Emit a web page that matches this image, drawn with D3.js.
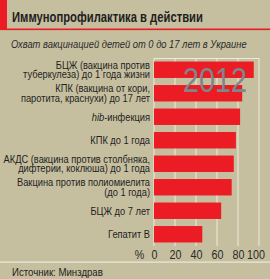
<!DOCTYPE html>
<html>
<head>
<meta charset="utf-8">
<script src="https://cdn.jsdelivr.net/npm/d3@7"></script>
<style>
  body { margin: 0; background: #c6bf9f; }
  svg { display: block; }
  text { font-family: "Liberation Sans", Arial, sans-serif; }
</style>
</head>
<body>
<svg id="chart" width="270" height="279"></svg>
<script>
// Data
const categories = [
    "БЦЖ (вакцина против\nтуберкулеза) до 1 года жизни",
    "КПК (вакцина от кори,\nпаротита, краснухи) до 17 лет",
    "hib-инфекция",
    "КПК до 1 года",
    "АКДС (вакцина против столбняка,\nдифтерии, коклюша) до 1 года",
    "Вакцина против полиомиелита\n(до 1 года)",
    "БЦЖ до 7 лет",
    "Гепатит В"
];
const values = [95, 84, 82, 78, 76, 74, 64, 46];
const tickValues = [0, 20, 40, 60, 80, 100];
const title = "Иммунопрофилактика в действии";
const subtitle = "Охват вакцинацией детей от 0 до 17 лет в Украине";
const yearLabel = "2012";
const source = "Источник: Минздрав";

const svg = d3.select("#chart");
const bg = "#c6bf9f";
const red = "#ec1c24";
const grid = "#eeeadb";
const ink = "#1e1e1e";

// The original uses a condensed face; squeeze a regular one horizontally
function condensed(parent, px, py, sx, anchor) {
    return parent.append("g")
        .attr("transform", `translate(${px},${py}) scale(${sx},1)`)
        .append("text")
        .attr("text-anchor", anchor || "start");
}

// fit a text to a width measured on the reference
function fit(textSel, width) {
    const w = textSel.node().getComputedTextLength();
    const parent = d3.select(textSel.node().parentNode);
    parent.attr("transform", parent.attr("transform").replace(/scale\([^)]*\)/, `scale(${width / w},1)`));
    return width / w;
}

svg.append("rect").attr("width", 270).attr("height", 279).attr("fill", bg);

// Title block
svg.append("rect").attr("x", 0).attr("y", 0).attr("width", 7).attr("height", 30).attr("fill", red);
svg.append("rect").attr("x", 0).attr("y", 28.5).attr("width", 270).attr("height", 1.6).attr("fill", red);

const titleText = condensed(svg, 12, 22, 1, "start")
    .style("font-size", "14px").style("font-weight", "bold").attr("fill", ink)
    .text(title);
fit(titleText, 191);
const subText = condensed(svg, 11, 47.5, 1, "start")
    .style("font-size", "11.5px").style("font-style", "italic").attr("fill", "#2a2a2a")
    .text(subtitle);
fit(subText, 236);

// Scales
const x = d3.scaleLinear().domain([0, 100]).range([154, 259]);
const y = d3.scaleBand().domain(categories).range([58, 246]).paddingInner(0.3).paddingOuter(0.15);

// Grid
const g = svg.append("g");
g.selectAll(".grid")
    .data(tickValues)
    .enter()
    .append("line")
    .attr("x1", d => x(d)).attr("x2", d => x(d))
    .attr("y1", 58).attr("y2", 246)
    .attr("stroke", grid).attr("stroke-width", 1);
g.append("line")
    .attr("x1", x(0)).attr("x2", x(100))
    .attr("y1", 58.5).attr("y2", 58.5)
    .attr("stroke", grid).attr("stroke-width", 1);

// Bars
g.selectAll(".bar")
    .data(values)
    .enter()
    .append("rect")
    .attr("class", "bar")
    .attr("x", x(0))
    .attr("y", (d, i) => y(categories[i]))
    .attr("width", d => x(d) - x(0))
    .attr("height", y.bandwidth())
    .attr("fill", red);

// Year, drawn over the bars
const year = condensed(svg, 183, 92, 1, "start")
    .style("font-size", "35px").attr("fill", "#7b878d")
    .text(yearLabel);
fit(year, 64);

// Category labels
const labelSize = "10.5px";
const labelSx = (() => {
    const probe = condensed(svg, 0, -50, 1, "end").style("font-size", labelSize).text("туберкулеза) до 1 года жизни");
    const s = 127 / probe.node().getComputedTextLength();
    probe.node().parentNode.remove();
    return s;
})();

categories.forEach(d => {
    const lines = d.split("\n");
    const cy = y(d) + y.bandwidth() / 2;
    const lh = 9.4;
    lines.forEach((line, i) => {
        const ty = cy + 3.8 + (i - (lines.length - 1) / 2) * lh;
        const t = condensed(svg, 150, ty, labelSx, "end")
            .style("font-size", labelSize).attr("fill", ink);
        if (line.startsWith("hib")) {
            t.append("tspan").style("font-style", "italic").text("hib");
            t.append("tspan").text(line.slice(3));
        } else {
            t.text(line);
        }
    });
});

// Axis
const tickSx = 0.86;
const axis = d3.axisBottom(x).tickValues(tickValues).tickSize(0).tickPadding(0)
    .tickFormat(d => d);
const ax = svg.append("g").attr("transform", "translate(0,258.5)").call(axis);
ax.select(".domain").remove();
ax.selectAll(".tick text")
    .attr("y", 0).attr("dy", 0)
    .attr("transform", `scale(${tickSx},1)`)
    .style("font-size", "12.5px")
    .style("font-family", "\"Liberation Sans\", Arial, sans-serif")
    .attr("fill", "#2a2a2a");
ax.selectAll(".tick").filter(d => d === 100).attr("transform", `translate(${x(100) - 3},0)`);

condensed(svg, 139.5, 258.5, tickSx, "middle")
    .style("font-size", "12.5px").attr("fill", "#2a2a2a")
    .text("%");

// Footer
svg.append("rect").attr("x", 0).attr("y", 261.5).attr("width", 270).attr("height", 1.2).attr("fill", grid);
const src = condensed(svg, 12, 275.5, 1, "start")
    .style("font-size", "11px").attr("fill", ink)
    .text(source);
fit(src, 91);
</script>
</body>
</html>
